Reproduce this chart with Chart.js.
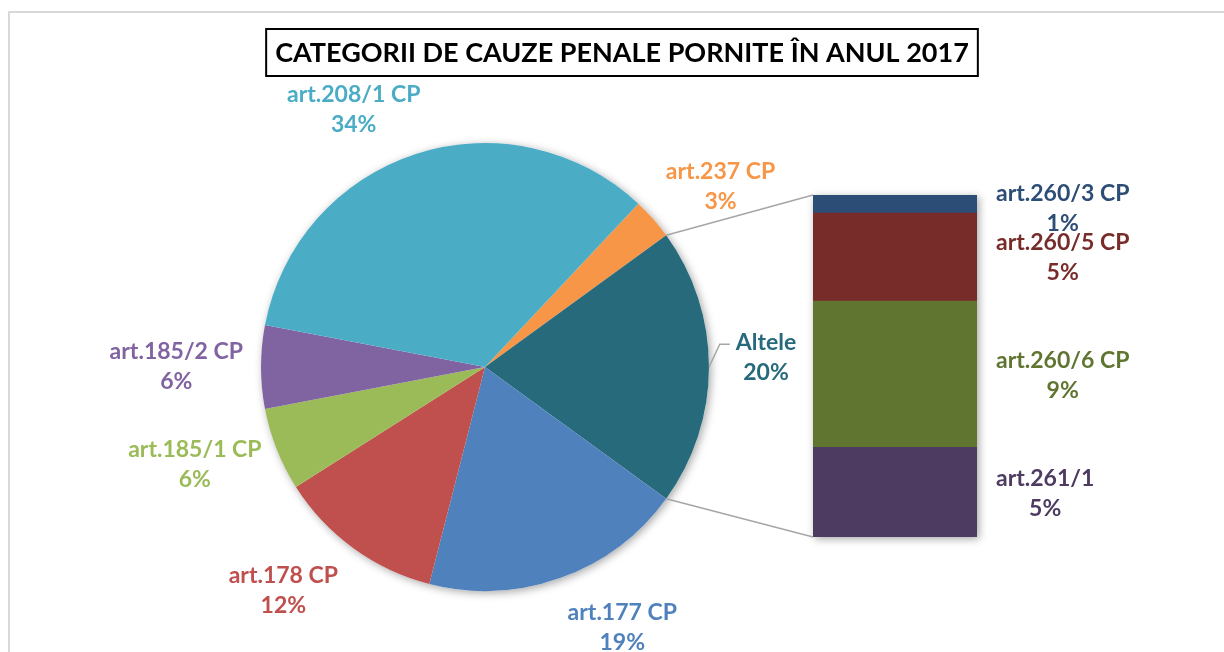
<!DOCTYPE html>
<html>
<head>
<meta charset="utf-8">
<script src="https://cdn.jsdelivr.net/npm/chart.js@4.4.1/dist/chart.umd.min.js"></script>
<style>
  body { margin: 0; background: #fff; }
  #wrap { position: relative; width: 1224px; height: 652px; overflow: hidden; }
  #wrap canvas { position: absolute; left: 0; top: 0; }
</style>
</head>
<body>
<div id="wrap">
  <canvas id="pie" width="1224" height="652"></canvas>
  <canvas id="bar" width="1224" height="652"></canvas>
</div>
<script>
// data
const titleText = 'CATEGORII DE CAUZE PENALE PORNITE ÎN ANUL 2017';

const pieLabels = ['art.237 CP', 'Altele', 'art.177 CP', 'art.178 CP', 'art.185/1 CP', 'art.185/2 CP', 'art.208/1 CP'];
const pieValues = [3, 20, 19, 12, 6, 6, 34];
const pieColors = ['#F79646', '#276A7C', '#4F81BD', '#C0504D', '#9BBB59', '#8064A2', '#4BACC6'];

// "Altele" split into the stacked bar (bottom to top)
const barLabels = ['art.261/1', 'art.260/6 CP', 'art.260/5 CP', 'art.260/3 CP'];
const barValues = [5.25, 8.55, 5.15, 1.05];
const barColors = ['#4D3B62', '#5F7530', '#772C2A', '#2C4D75'];

const otherIndex = 1;
// label nudges per slice: [degrees, extra distance]
const labelShift = [[4, 2], [-2, 16], [-8, 10], [6, 10], [3, 0], [0, 8], [-9, 0]];

const pieTotal = pieValues.reduce((a, b) => a + b, 0);
const barTotal = barValues.reduce((a, b) => a + b, 0);
const pct = v => Math.round(v / pieTotal * 100) + '%';
// keep "Altele" centred on the right side
const startRotation = 90 - (pieValues[0] + pieValues[otherIndex] / 2) / pieTotal * 360;

const labelFont = 'bold 23px Lato';
const lineGap = 30;

function drawLabel(ctx, lines, x, y, color) {
  ctx.save();
  ctx.font = labelFont;
  ctx.fillStyle = color;
  ctx.textAlign = 'center';
  ctx.textBaseline = 'middle';
  ctx.fillText(lines[0], x, y - lineGap / 2);
  ctx.fillText(lines[1], x, y + lineGap / 2);
  ctx.restore();
}

// frame + boxed title
const framePlugin = {
  id: 'frame',
  beforeDraw(chart) {
    const ctx = chart.ctx;
    ctx.save();
    ctx.strokeStyle = '#D9D9D9';
    ctx.lineWidth = 2;
    ctx.strokeRect(9, 12, 1400, 800);
    ctx.font = 'bold 27px Lato';
    ctx.textAlign = 'center';
    ctx.textBaseline = 'middle';
    const w = ctx.measureText(titleText).width;
    const cx = 622, cy = 53;
    ctx.fillStyle = '#000';
    ctx.fillText(titleText, cx, cy);
    ctx.lineWidth = 2;
    ctx.strokeStyle = '#000';
    ctx.strokeRect(cx - w / 2 - 9, 29, w + 18, 47);
    ctx.restore();
  }
};

// soft shadow behind the pie
const pieShadow = {
  id: 'pieShadow',
  beforeDatasetsDraw(chart) {
    const arc = chart.getDatasetMeta(0).data[0];
    const ctx = chart.ctx;
    ctx.save();
    ctx.shadowColor = 'rgba(0,0,0,0.35)';
    ctx.shadowBlur = 8;
    ctx.shadowOffsetX = 2;
    ctx.shadowOffsetY = 2;
    ctx.fillStyle = '#fff';
    ctx.beginPath();
    ctx.arc(arc.x, arc.y, arc.outerRadius, 0, Math.PI * 2);
    ctx.fill();
    ctx.restore();
  }
};

const pieLabelPlugin = {
  id: 'pieLabels',
  afterDatasetsDraw(chart) {
    const ctx = chart.ctx;
    ctx.save();
    ctx.font = labelFont;
    chart.getDatasetMeta(0).data.forEach((arc, i) => {
      const lines = [pieLabels[i], pct(pieValues[i])];
      const w = Math.max(...lines.map(t => ctx.measureText(t).width));
      const h = lineGap * 2 - 4;
      const a = (arc.startAngle + arc.endAngle) / 2 + labelShift[i][0] * Math.PI / 180;
      const c = Math.cos(a), s = Math.sin(a);
      const dist = arc.outerRadius + 10 + labelShift[i][1] + Math.abs(c) * w / 2 + Math.abs(s) * h / 2;
      const x = arc.x + c * dist, y = arc.y + s * dist;
      if (i === otherIndex) {
        // small leader line
        const ea = (arc.startAngle + arc.endAngle) / 2;
        const ex = arc.x + Math.cos(ea) * arc.outerRadius;
        const ey = arc.y + Math.sin(ea) * arc.outerRadius;
        const ly = y - lineGap / 2 + 2;
        ctx.strokeStyle = '#A6A6A6';
        ctx.lineWidth = 1.5;
        ctx.beginPath();
        ctx.moveTo(ex, ey);
        ctx.lineTo(x - w / 2 - 16, ly);
        ctx.lineTo(x - w / 2 - 6, ly);
        ctx.stroke();
      }
      drawLabel(ctx, lines, x, y, pieColors[i]);
    });
    ctx.restore();
  }
};

const pieChart = new Chart(document.getElementById('pie'), {
  type: 'pie',
  data: {
    labels: pieLabels,
    datasets: [{ data: pieValues, backgroundColor: pieColors, borderWidth: 0, hoverOffset: 0 }]
  },
  options: {
    responsive: false,
    animation: false,
    rotation: startRotation,
    layout: { padding: { left: 261, right: 515, top: 143, bottom: 61 } },
    plugins: { legend: { display: false }, tooltip: { enabled: false } }
  },
  plugins: [framePlugin, pieShadow, pieLabelPlugin]
});

// stacked bar, connectors and its labels
const barExtras = {
  id: 'barExtras',
  beforeDatasetsDraw(chart) {
    const a = chart.chartArea;
    const y = chart.scales.y;
    const ctx = chart.ctx;
    ctx.save();
    ctx.shadowColor = 'rgba(0,0,0,0.35)';
    ctx.shadowBlur = 8;
    ctx.shadowOffsetX = 2;
    ctx.shadowOffsetY = 2;
    ctx.fillStyle = '#fff';
    const top = y.getPixelForValue(barTotal), bottom = y.getPixelForValue(0);
    ctx.fillRect(a.left, top, a.right - a.left, bottom - top);
    ctx.restore();
  },
  afterDatasetsDraw(chart) {
    const ctx = chart.ctx;
    const a = chart.chartArea;
    const y = chart.scales.y;
    const arc = pieChart.getDatasetMeta(0).data[otherIndex];
    const top = y.getPixelForValue(barTotal), bottom = y.getPixelForValue(0);
    ctx.save();
    ctx.strokeStyle = '#A6A6A6';
    ctx.lineWidth = 1.5;
    ctx.beginPath();
    ctx.moveTo(arc.x + Math.cos(arc.startAngle) * arc.outerRadius, arc.y + Math.sin(arc.startAngle) * arc.outerRadius);
    ctx.lineTo(a.left, top);
    ctx.moveTo(arc.x + Math.cos(arc.endAngle) * arc.outerRadius, arc.y + Math.sin(arc.endAngle) * arc.outerRadius);
    ctx.lineTo(a.left, bottom);
    ctx.stroke();
    ctx.font = labelFont;
    barLabels.forEach((lab, i) => {
      const bar = chart.getDatasetMeta(i).data[0];
      const lines = [lab, pct(barValues[i])];
      const w = Math.max(...lines.map(t => ctx.measureText(t).width));
      const cy = (bar.y + bar.base) / 2 + (i === barLabels.length - 1 ? 5 : 1);
      drawLabel(ctx, lines, a.right + 19 + w / 2, cy, barColors[i]);
    });
    ctx.restore();
  }
};

new Chart(document.getElementById('bar'), {
  type: 'bar',
  data: {
    labels: [''],
    datasets: barLabels.map((l, i) => ({
      label: l,
      data: [barValues[i]],
      backgroundColor: barColors[i],
      borderWidth: 0,
      barPercentage: 1,
      categoryPercentage: 1
    }))
  },
  options: {
    responsive: false,
    animation: false,
    layout: { padding: { left: 813, right: 247, top: 195, bottom: 115 } },
    scales: {
      x: { display: false, stacked: true },
      y: { display: false, stacked: true, min: 0, max: barTotal }
    },
    plugins: { legend: { display: false }, tooltip: { enabled: false } }
  },
  plugins: [barExtras]
});
</script>
</body>
</html>
